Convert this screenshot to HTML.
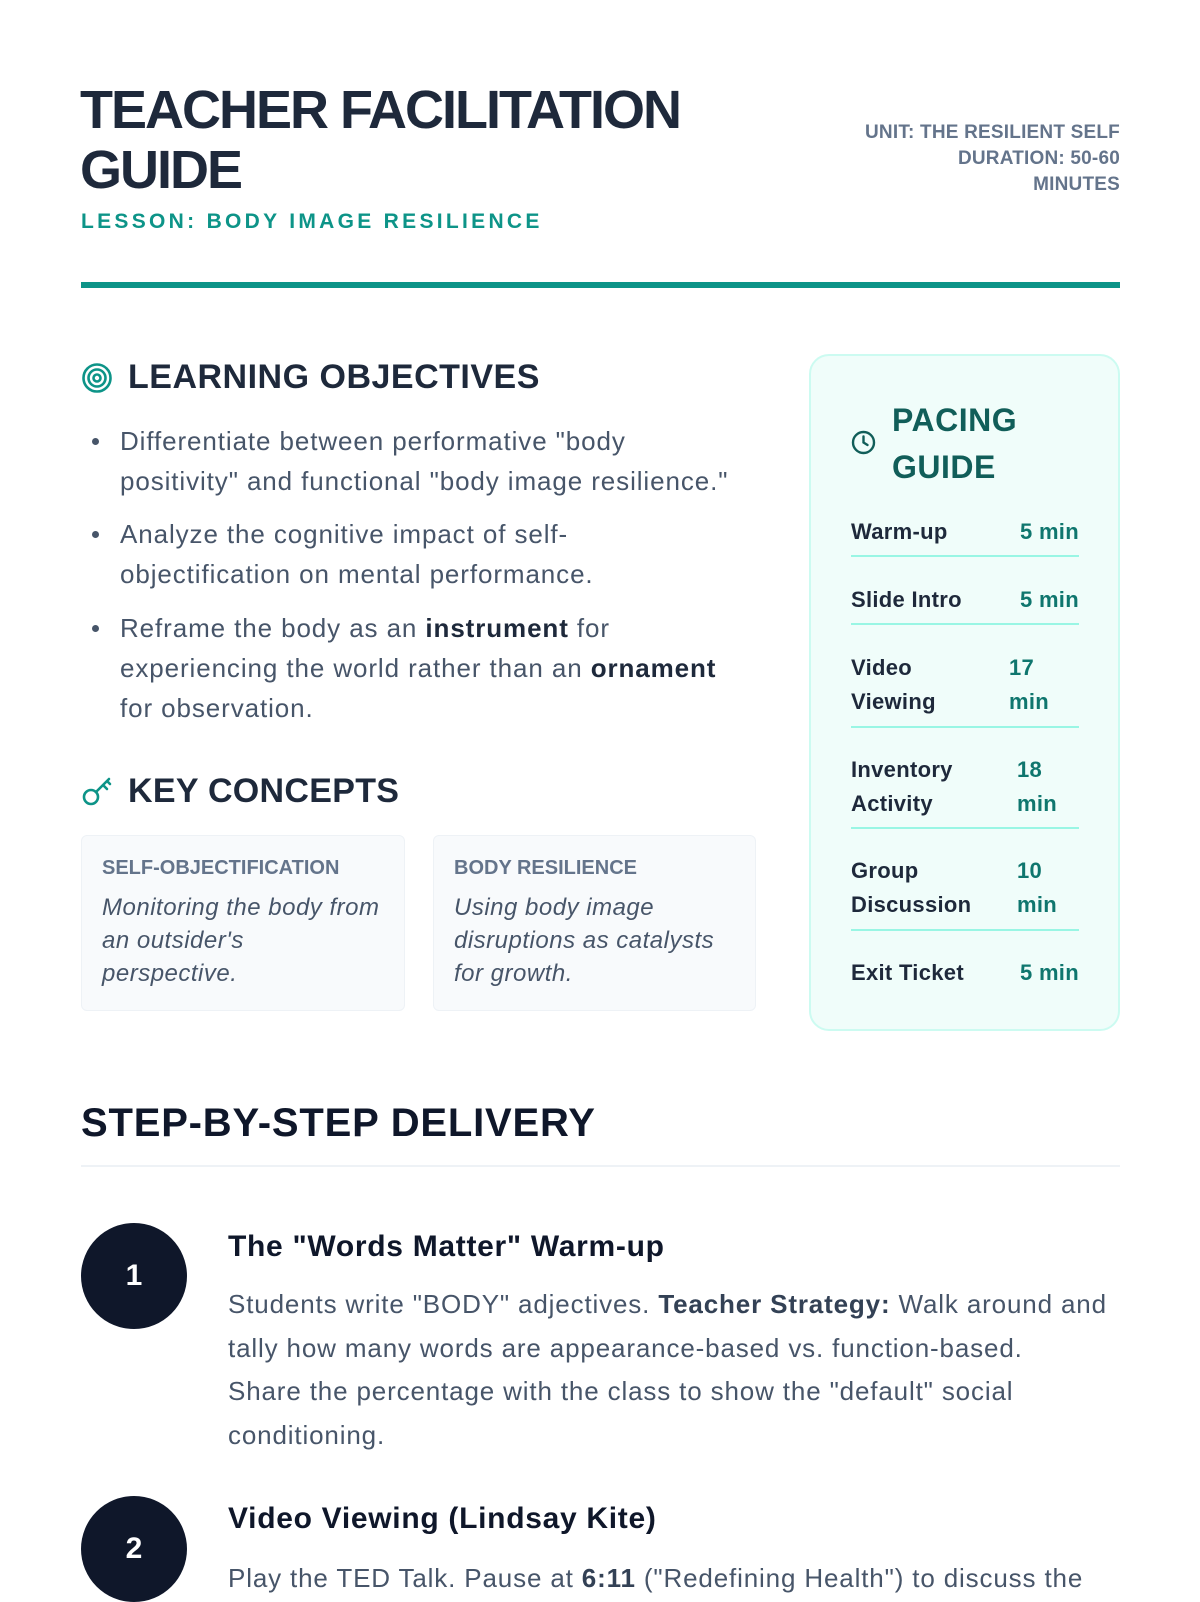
<!DOCTYPE html>
<html><head><meta charset="utf-8"><style>
*{margin:0;padding:0;box-sizing:border-box}
html,body{width:1200px;height:1600px;overflow:hidden;background:#fff;font-family:"Liberation Sans",sans-serif}
.a{position:absolute;white-space:nowrap}
.h{font-weight:700;color:#1e293b}
.title{left:80px;font-size:54px;font-weight:700;color:#1e293b;letter-spacing:-2px;line-height:60px}
.meta{right:80px;text-align:right;font-size:19px;font-weight:700;color:#64748b;line-height:26px;letter-spacing:0.2px}
.bul{left:120px;font-size:26px;color:#475569;line-height:40px;letter-spacing:0.9px}
.dot{position:absolute;left:92px;width:7px;height:7px;border-radius:50%;background:#475569}
.card{position:absolute;top:835px;height:176px;background:#f8fafc;border:1px solid #eef2f6;border-radius:6px}
.ct{position:absolute;left:20px;top:21px;font-size:20px;font-weight:700;color:#64748b}
.cb{position:absolute;left:20px;top:55px;font-size:24px;font-style:italic;color:#475569;line-height:33px;white-space:nowrap;letter-spacing:0.5px}
.row{position:absolute;left:851px;width:228px;font-size:22px;font-weight:700;color:#1e293b;line-height:34px;letter-spacing:0.3px}
.val{position:absolute;color:#0f766e}
.rule{position:absolute;left:851px;width:228px;height:2px;background:#99f6e4}
.circ{position:absolute;left:81px;width:106px;height:106px;border-radius:50%;background:#0f172a;color:#fff;font-size:30px;font-weight:700;text-align:center;line-height:106px}
.st{left:228px;font-size:30px;font-weight:700;color:#0f172a;letter-spacing:0.7px}
.sb{left:228px;font-size:26px;color:#475569;line-height:43.5px;letter-spacing:0.85px}
</style></head><body>
<div class="a title" style="top:80px">TEACHER FACILITATION</div>
<div class="a title" style="top:140px">GUIDE</div>
<div class="a" style="left:81px;top:210px;font-size:21px;font-weight:700;color:#0d9488;letter-spacing:3.3px">LESSON: BODY IMAGE RESILIENCE</div>
<div class="a meta" style="top:120px">UNIT: THE RESILIENT SELF<br>DURATION: 50-60<br>MINUTES</div>
<div class="a" style="left:81px;top:282px;width:1039px;height:6px;background:#0d9488"></div>

<svg class="a" style="left:81px;top:362px" width="32" height="32" viewBox="0 0 32 32"><g fill="none" stroke="#0d9488" stroke-width="2.6"><circle cx="16" cy="16" r="13.5"/><circle cx="16" cy="16" r="8.5"/><circle cx="16" cy="16" r="3.5"/></g></svg>
<div class="a h" style="left:128px;top:358px;font-size:34px;letter-spacing:0.5px">LEARNING OBJECTIVES</div>

<div class="dot" style="top:438px"></div>
<div class="a bul" style="top:421px">Differentiate between performative "body<br>positivity" and functional "body image resilience."</div>
<div class="dot" style="top:531px"></div>
<div class="a bul" style="top:514px">Analyze the cognitive impact of self-<br>objectification on mental performance.</div>
<div class="dot" style="top:625px"></div>
<div class="a bul" style="top:608px">Reframe the body as an <b style="color:#1e293b">instrument</b> for<br>experiencing the world rather than an <b style="color:#1e293b">ornament</b><br>for observation.</div>

<svg class="a" style="left:81px;top:774px" width="34" height="34" viewBox="0 0 34 34"><g fill="none" stroke="#0d9488" stroke-width="2.6" stroke-linecap="round"><circle cx="10" cy="23" r="7"/><path d="M15 18 L28 5 M22 11 l4 4 M26 7 l3 3"/></g></svg>
<div class="a h" style="left:128px;top:772px;font-size:34px;letter-spacing:0.3px">KEY CONCEPTS</div>

<div class="card" style="left:81px;width:324px"><div class="ct">SELF-OBJECTIFICATION</div><div class="cb">Monitoring the body from<br>an outsider's<br>perspective.</div></div>
<div class="card" style="left:433px;width:323px"><div class="ct">BODY RESILIENCE</div><div class="cb">Using body image<br>disruptions as catalysts<br>for growth.</div></div>

<div class="a" style="left:809px;top:354px;width:311px;height:677px;background:#f0fdfa;border:2px solid #ccfbf1;border-radius:20px"></div>
<svg class="a" style="left:851px;top:430px" width="25" height="25" viewBox="0 0 25 25"><g fill="none" stroke="#115e59" stroke-width="2.4" stroke-linecap="round"><circle cx="12.5" cy="12.5" r="10.5"/><path d="M12.5 6.5 V12.5 L16.5 15"/></g></svg>
<div class="a" style="left:892px;top:397px;font-size:32px;font-weight:700;color:#115e59;line-height:47px;letter-spacing:0.5px">PACING<br>GUIDE</div>

<div class="row" style="top:515px">Warm-up<span class="val" style="left:169px">5 min</span></div>
<div class="rule" style="top:555px"></div>
<div class="row" style="top:583px">Slide Intro<span class="val" style="left:169px">5 min</span></div>
<div class="rule" style="top:623px"></div>
<div class="row" style="top:651px">Video<br>Viewing<span class="val" style="left:158px;top:0">17<br>min</span></div>
<div class="rule" style="top:726px"></div>
<div class="row" style="top:753px">Inventory<br>Activity<span class="val" style="left:166px;top:0">18<br>min</span></div>
<div class="rule" style="top:827px"></div>
<div class="row" style="top:854px">Group<br>Discussion<span class="val" style="left:166px;top:0">10<br>min</span></div>
<div class="rule" style="top:929px"></div>
<div class="row" style="top:956px">Exit Ticket<span class="val" style="left:169px">5 min</span></div>

<div class="a" style="left:81px;top:1101px;font-size:40px;font-weight:700;color:#0f172a;letter-spacing:0.8px">STEP-BY-STEP DELIVERY</div>
<div class="a" style="left:81px;top:1165px;width:1039px;height:2px;background:#eef2f6"></div>

<div class="circ" style="top:1223px">1</div>
<div class="a st" style="top:1230px">The "Words Matter" Warm-up</div>
<div class="a sb" style="top:1283px">Students write "BODY" adjectives. <b style="color:#334155">Teacher Strategy:</b> Walk around and<br>tally how many words are appearance-based vs. function-based.<br>Share the percentage with the class to show the "default" social<br>conditioning.</div>

<div class="circ" style="top:1496px">2</div>
<div class="a st" style="top:1502px">Video Viewing (Lindsay Kite)</div>
<div class="a sb" style="top:1557px">Play the TED Talk. Pause at <b style="color:#334155">6:11</b> ("Redefining Health") to discuss the</div>
</body></html>
